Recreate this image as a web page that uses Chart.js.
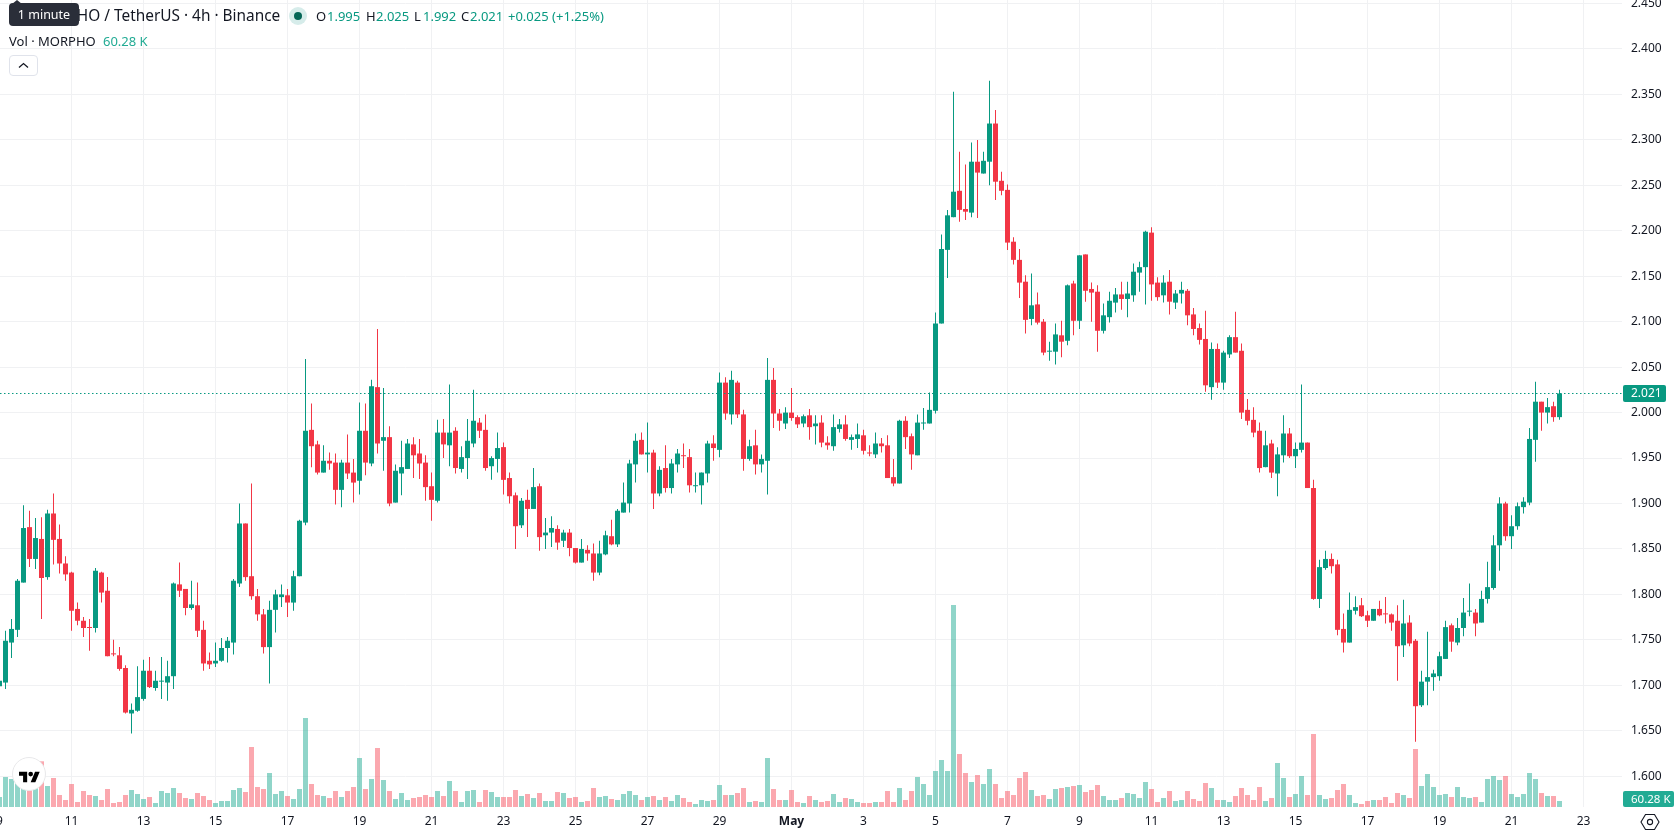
<!DOCTYPE html>
<html>
<head>
<meta charset="utf-8">
<title>MORPHO / TetherUS</title>
<script src="https://cdn.jsdelivr.net/npm/chart.js@4"></script>
<style>
    html, body { margin: 0; padding: 0; background: #fff; overflow: hidden; }
    #wrap { position: relative; width: 1678px; height: 835px; font-family: "Noto Sans", sans-serif; color: #131722; }
    canvas { position: absolute; left: 0; top: 0; }
    .txt { position: absolute; white-space: nowrap; font-size: 13px; line-height: 18px; }
    .up { color: #089981; }
    #symbol { left: 32px; top: 6px; font-size: 15.4px; line-height: 20px; }
    #hint { position: absolute; left: 9px; top: 3px; width: 70px; height: 23px; background: #2a2e39; border-radius: 4px;
        color: #fff; font-size: 12.5px; line-height: 23px; text-align: center; }
    #hint:before { content: ""; position: absolute; left: 3px; top: -3px; border: 5px solid transparent; border-top: 0; border-bottom: 4px solid #2a2e39; }
    #status { position: absolute; left: 289px; top: 7px; width: 18px; height: 18px; border-radius: 50%; background: #d6ecea; }
    #status:after { content: ""; position: absolute; left: 5px; top: 5px; width: 8px; height: 8px; border-radius: 50%; background: #056656; }
    #collapse { position: absolute; left: 9px; top: 55px; width: 27px; height: 19px; border: 1px solid #e0e3eb; border-radius: 4px; background: #fff; }
    #badge { position: absolute; left: 12px; top: 757px; width: 32px; height: 32px; border-radius: 50%; background: #fff; border: 1px solid #e8e8ea; }
</style>
</head>
<body>
<div id="wrap">
    <canvas id="priceChart" width="1678" height="835"></canvas>

    <div class="txt" id="symbol">MORPHO / TetherUS · 4h · Binance</div>
    <div id="hint">1 minute</div>
    <div id="status"></div>
    <div class="txt" style="left:316px;top:7px">O</div><div class="txt up" style="left:327px;top:7px">1.995</div>
    <div class="txt" style="left:366px;top:7px">H</div><div class="txt up" style="left:376px;top:7px">2.025</div>
    <div class="txt" style="left:414px;top:7px">L</div><div class="txt up" style="left:423px;top:7px">1.992</div>
    <div class="txt" style="left:461px;top:7px">C</div><div class="txt up" style="left:470px;top:7px">2.021</div>
    <div class="txt up" style="left:508px;top:7px">+0.025 (+1.25%)</div>

    <div class="txt" style="left:9px;top:32px">Vol · MORPHO</div>
    <div class="txt" style="left:103px;top:32px;color:#22ab94">60.28 K</div>

    <div id="collapse">
        <svg width="27" height="19" viewBox="0 0 27 19"><path d="M9 11.5l4.5-4 4.5 4" fill="none" stroke="#131722" stroke-width="1.3"/></svg>
    </div>

    <!-- 로고 배지 -->
    <div id="badge">
        <svg style="position:absolute;left:6px;top:11px" width="21" height="16" viewBox="0 3 36 20" fill="#000">
            <path d="M14 22H7V11H0V4h14v18zM28 22h-8l7.5-18h8L28 22z"/><circle cx="20" cy="8" r="4"/>
        </svg>
    </div>

    <!-- 우측 하단 설정 아이콘 -->
    <svg style="position:absolute;left:1640px;top:812px" width="20" height="20" viewBox="0 0 20 20" fill="none" stroke="#131722" stroke-width="1.1">
        <path d="M5.5 2.5h9L19 10l-4.5 7.5h-9L1 10z"/><circle cx="10" cy="10" r="2.6"/>
    </svg>
</div>

<script>
// 4시간봉 시가
const opens = [
    1.699,1.703,1.747,1.761,1.813,1.874,1.839,1.861,1.819,1.889,
    1.861,1.834,1.824,1.784,1.771,1.764,1.763,1.824,1.804,1.735,
    1.733,1.719,1.669,1.672,1.685,1.716,1.697,1.704,1.703,1.710,
    1.811,1.806,1.785,1.788,1.761,1.727,1.724,1.727,1.741,1.747,
    1.812,1.878,1.820,1.798,1.778,1.742,1.783,1.797,1.799,1.791,
    1.820,1.879,1.981,1.965,1.934,1.947,1.945,1.915,1.945,1.934,
    1.925,1.980,1.944,2.028,1.969,1.973,1.901,1.933,1.938,1.965,
    1.955,1.945,1.919,1.903,1.978,1.964,1.980,1.938,1.950,1.966,
    1.989,1.981,1.941,1.949,1.962,1.928,1.909,1.876,1.904,1.894,
    1.919,1.865,1.868,1.872,1.859,1.868,1.851,1.835,1.849,1.845,
    1.824,1.844,1.864,1.855,1.890,1.900,1.943,1.970,1.954,1.956,
    1.911,1.939,1.917,1.943,1.953,1.951,1.919,1.920,1.933,1.966,
    1.959,2.033,1.998,2.033,1.998,1.949,1.964,1.943,1.947,2.036,
    1.999,1.988,2.000,1.995,1.988,1.997,1.985,1.989,1.967,1.963,
    1.982,1.987,1.970,1.971,1.975,1.956,1.954,1.966,1.964,1.929,
    1.922,1.991,1.974,1.953,1.988,1.988,2.002,2.098,2.179,2.215,
    2.244,2.224,2.220,2.276,2.263,2.276,2.318,2.255,2.245,2.188,
    2.168,2.144,2.103,2.119,2.100,2.067,2.067,2.085,2.079,2.142,
    2.101,2.174,2.136,2.133,2.090,2.105,2.121,2.130,2.125,2.129,
    2.154,2.160,2.198,2.143,2.129,2.144,2.121,2.131,2.134,2.108,
    2.093,2.081,2.028,2.070,2.033,2.064,2.083,2.068,2.003,1.992,
    1.980,1.940,1.966,1.933,1.953,1.977,1.952,1.959,1.967,1.917,
    1.795,1.829,1.839,1.833,1.762,1.747,1.782,1.788,1.777,1.771,
    1.784,1.779,1.778,1.771,1.744,1.769,1.749,1.678,1.704,1.709,
    1.710,1.729,1.766,1.747,1.763,1.781,1.780,1.769,1.795,1.807,
    1.854,1.900,1.864,1.875,1.896,1.901,1.970,2.012,2.000,2.007,1.995
];
// 고가
const highs = [
    1.709,1.760,1.773,1.817,1.898,1.892,1.884,1.885,1.893,1.911,
    1.877,1.842,1.825,1.791,1.775,1.773,1.829,1.825,1.819,1.750,
    1.742,1.722,1.680,1.721,1.728,1.731,1.716,1.731,1.727,1.813,
    1.835,1.806,1.815,1.813,1.771,1.736,1.747,1.752,1.753,1.817,
    1.900,1.878,1.922,1.806,1.784,1.793,1.805,1.811,1.806,1.826,
    1.882,2.059,2.010,1.969,1.964,1.956,1.955,1.948,1.976,1.949,
    2.011,2.010,2.036,2.092,2.027,1.985,1.943,1.969,1.971,1.973,
    1.971,1.953,1.934,1.992,1.993,2.031,1.984,1.963,1.993,2.025,
    1.994,1.998,1.952,1.978,1.967,1.934,1.912,1.906,1.915,1.939,
    1.922,1.884,1.886,1.876,1.871,1.872,1.851,1.861,1.854,1.856,
    1.859,1.870,1.882,1.894,1.923,1.948,1.977,1.978,1.989,1.959,
    1.941,1.964,1.949,1.960,1.966,1.960,1.934,1.934,1.969,1.975,
    2.044,2.039,2.046,2.035,2.003,1.970,1.981,1.954,2.060,2.049,
    2.004,2.006,2.027,1.997,1.998,2.004,1.997,1.997,1.974,1.998,
    1.993,1.997,1.976,1.988,1.981,1.964,1.978,1.972,1.975,1.949,
    1.992,1.996,1.977,1.998,2.005,2.022,2.110,2.196,2.223,2.353,
    2.287,2.273,2.297,2.300,2.287,2.365,2.333,2.265,2.251,2.193,
    2.180,2.151,2.153,2.132,2.103,2.078,2.098,2.101,2.141,2.145,
    2.173,2.174,2.143,2.140,2.120,2.133,2.137,2.144,2.144,2.164,
    2.166,2.200,2.204,2.149,2.151,2.157,2.135,2.144,2.136,2.115,
    2.098,2.112,2.077,2.076,2.068,2.085,2.111,2.076,2.015,2.006,
    1.989,1.980,1.970,1.962,1.997,1.983,1.967,2.031,1.967,1.926,
    1.838,1.848,1.845,1.838,1.779,1.802,1.798,1.796,1.782,1.784,
    1.793,1.797,1.779,1.788,1.794,1.777,1.751,1.716,1.759,1.717,
    1.737,1.771,1.768,1.774,1.796,1.812,1.784,1.804,1.836,1.865,
    1.907,1.902,1.887,1.901,1.907,1.983,2.034,2.012,2.016,2.012,2.025
];
// 저가
const lows = [
    1.696,1.696,1.730,1.753,1.813,1.830,1.828,1.773,1.816,1.833,
    1.823,1.815,1.760,1.766,1.753,1.738,1.758,1.791,1.732,1.732,
    1.716,1.669,1.647,1.671,1.683,1.697,1.694,1.685,1.683,1.696,
    1.797,1.777,1.783,1.753,1.716,1.718,1.720,1.726,1.725,1.734,
    1.808,1.815,1.794,1.771,1.735,1.702,1.758,1.786,1.775,1.782,
    1.820,1.876,1.940,1.932,1.934,1.937,1.899,1.896,1.927,1.901,
    1.910,1.931,1.941,1.955,1.936,1.897,1.901,1.909,1.938,1.928,
    1.927,1.903,1.881,1.901,1.950,1.941,1.933,1.934,1.927,1.962,
    1.972,1.936,1.926,1.934,1.910,1.900,1.850,1.873,1.863,1.894,
    1.848,1.850,1.852,1.849,1.852,1.842,1.834,1.835,1.837,1.815,
    1.821,1.843,1.854,1.852,1.890,1.890,1.923,1.954,1.934,1.894,
    1.908,1.912,1.911,1.934,1.939,1.912,1.912,1.899,1.923,1.947,
    1.951,1.992,1.987,1.994,1.936,1.947,1.932,1.934,1.910,1.983,
    1.980,1.982,1.991,1.983,1.984,1.970,1.965,1.962,1.959,1.958,
    1.978,1.969,1.959,1.961,1.954,1.952,1.950,1.956,1.928,1.919,
    1.922,1.960,1.937,1.953,1.981,1.988,1.999,2.098,2.148,2.215,
    2.210,2.212,2.215,2.214,2.263,2.250,2.234,2.239,2.179,2.163,
    2.126,2.087,2.096,2.097,2.063,2.057,2.053,2.061,2.074,2.085,
    2.092,2.122,2.100,2.067,2.087,2.099,2.110,2.113,2.105,2.122,
    2.133,2.119,2.123,2.123,2.121,2.108,2.114,2.120,2.096,2.085,
    2.075,2.023,2.014,2.027,2.025,2.060,2.066,1.993,1.986,1.973,
    1.934,1.940,1.928,1.908,1.945,1.950,1.939,1.956,1.917,1.794,
    1.785,1.827,1.823,1.755,1.736,1.747,1.778,1.775,1.764,1.771,
    1.776,1.768,1.760,1.705,1.731,1.743,1.638,1.676,1.678,1.694,
    1.705,1.729,1.737,1.744,1.754,1.776,1.754,1.769,1.790,1.805,
    1.826,1.859,1.850,1.871,1.889,1.898,1.946,1.980,1.988,1.990,1.992
];
// 종가
const closes = [
    1.705,1.749,1.762,1.815,1.873,1.839,1.862,1.818,1.889,1.860,
    1.834,1.822,1.782,1.771,1.763,1.763,1.826,1.802,1.732,1.734,
    1.718,1.670,1.673,1.687,1.716,1.698,1.705,1.705,1.710,1.812,
    1.804,1.785,1.789,1.760,1.724,1.723,1.727,1.741,1.749,1.815,
    1.878,1.819,1.798,1.778,1.742,1.783,1.800,1.800,1.791,1.820,
    1.881,1.980,1.963,1.934,1.947,1.944,1.915,1.945,1.933,1.923,
    1.980,1.945,2.029,1.966,1.973,1.900,1.936,1.940,1.966,1.953,
    1.944,1.918,1.904,1.978,1.965,1.978,1.939,1.951,1.969,1.991,
    1.980,1.939,1.950,1.961,1.926,1.908,1.875,1.903,1.894,1.918,
    1.863,1.868,1.873,1.857,1.868,1.851,1.835,1.850,1.845,1.824,
    1.845,1.865,1.855,1.892,1.901,1.944,1.969,1.954,1.956,1.911,
    1.937,1.917,1.944,1.955,1.952,1.920,1.920,1.934,1.966,1.961,
    2.033,1.999,2.036,1.998,1.949,1.963,1.943,1.949,2.036,1.999,
    1.991,2.000,1.994,1.987,1.996,1.984,1.988,1.967,1.964,1.984,
    1.987,1.971,1.973,1.976,1.958,1.955,1.966,1.963,1.928,1.922,
    1.991,1.973,1.954,1.989,1.989,2.003,2.098,2.180,2.217,2.243,
    2.223,2.221,2.276,2.264,2.277,2.318,2.254,2.244,2.187,2.168,
    2.143,2.102,2.118,2.099,2.066,2.068,2.086,2.078,2.140,2.101,
    2.173,2.134,2.132,2.090,2.107,2.123,2.130,2.125,2.131,2.155,
    2.160,2.199,2.141,2.127,2.143,2.122,2.131,2.135,2.107,2.092,
    2.080,2.030,2.070,2.033,2.066,2.083,2.066,2.000,1.991,1.978,
    1.939,1.964,1.934,1.954,1.977,1.952,1.960,1.967,1.917,1.795,
    1.830,1.839,1.831,1.761,1.747,1.783,1.786,1.776,1.771,1.784,
    1.777,1.778,1.769,1.743,1.768,1.746,1.677,1.704,1.709,1.713,
    1.732,1.764,1.748,1.763,1.780,1.782,1.768,1.795,1.808,1.854,
    1.900,1.864,1.875,1.897,1.902,1.971,2.012,2.000,2.006,1.995,2.021
];
// 거래량 (K)
const volumes = [
    100,300,280,260,200,180,190,457,210,290,
    120,70,230,50,160,120,110,70,180,40,
    50,120,170,130,80,100,40,160,140,190,
    140,90,80,140,110,70,40,60,60,170,
    190,150,600,200,180,340,130,160,110,80,
    180,890,230,120,110,90,160,100,160,200,
    490,180,280,590,270,160,80,140,70,90,
    100,120,100,160,110,260,160,50,160,170,
    50,170,150,100,100,100,170,110,130,90,
    140,60,60,150,140,90,100,50,60,190,
    100,110,80,70,130,160,120,70,100,110,
    70,100,60,120,90,50,30,70,60,70,
    220,120,120,140,190,50,60,50,490,180,
    70,70,170,50,40,110,70,50,60,130,
    50,90,80,50,40,40,50,50,160,50,
    190,70,160,300,230,120,360,470,360,2020,
    530,340,250,320,230,380,230,90,160,120,
    290,350,170,110,120,80,180,190,200,210,
    220,150,170,220,110,70,70,90,140,130,
    90,250,180,50,90,160,60,70,160,80,
    60,240,190,70,70,50,110,190,120,70,
    200,60,90,440,290,100,130,310,120,730,
    120,80,90,170,230,120,40,30,60,70,
    70,100,40,140,120,90,580,210,330,200,
    120,130,100,200,100,90,100,50,280,310,
    270,310,130,100,130,340,280,140,110,110,60.28
];

// 축 눈금
const priceTicks = [1.6,1.65,1.7,1.75,1.8,1.85,1.9,1.95,2,2.05,2.1,2.15,2.2,2.25,2.3,2.35,2.4,2.45];
const dateTicks = [0,12,24,36,48,60,72,84,96,108,120,132,144,156,168,180,192,204,216,228,240,252,264];
const dateLabels = ['9','11','13','15','17','19','21','23','25','27','29','May','3','5','7','9','11','13','15','17','19','21','23'];

const UP = '#089981';
const DOWN = '#f23645';
const UP_VOL = 'rgba(34,171,148,0.5)';
const DOWN_VOL = 'rgba(247,82,95,0.5)';
const GRID = '#f0f1f3';
const AXIS_FONT = { family: '"Noto Sans", sans-serif', size: 12 };

// 한 봉이 6px, 차트 영역은 1622 x 807
const xMin = 0.5 / 6;
const xMax = xMin + 1622 / 6;
const lastClose = closes[closes.length - 1];
const lastVolume = volumes[volumes.length - 1];

const isUp = i => closes[i] >= opens[i];

// 현재가, 거래량 라벨 박스
const valueBoxes = {
    id: 'valueBoxes',
    afterDraw(chart) {
        const ctx = chart.ctx;
        const y = chart.scales.y.getPixelForValue(lastClose);
        ctx.save();
        ctx.font = '12px "Noto Sans", sans-serif';
        ctx.textBaseline = 'middle';
        ctx.textAlign = 'left';

        ctx.fillStyle = UP;
        ctx.beginPath();
        ctx.roundRect(1623, Math.round(y) - 9, 43, 17, 2);
        ctx.fill();
        ctx.fillStyle = '#fff';
        ctx.fillText(lastClose.toFixed(3), 1631, Math.round(y));

        ctx.font = '11.5px "Noto Sans", sans-serif';
        ctx.fillStyle = '#22ab94';
        ctx.beginPath();
        ctx.roundRect(1623, 791, 51, 16, 2);
        ctx.fill();
        ctx.fillStyle = '#fff';
        ctx.fillText(lastVolume.toFixed(2) + ' K', 1631, 800);
        ctx.restore();
    }
};

new Chart(document.getElementById('priceChart').getContext('2d'), {
    type: 'bar',
    data: {
        datasets: [
            {
                label: 'Vol',
                yAxisID: 'yVol',
                order: 3,
                grouped: false,
                barThickness: 5,
                inflateAmount: 0,
                data: volumes.map((v, i) => ({ x: i, y: v })),
                backgroundColor: volumes.map((v, i) => isUp(i) ? UP_VOL : DOWN_VOL)
            },
            {
                label: 'wick',
                order: 2,
                grouped: false,
                barThickness: 1,
                inflateAmount: 0,
                data: highs.map((h, i) => ({ x: i, y: [lows[i], h] })),
                backgroundColor: highs.map((h, i) => isUp(i) ? UP : DOWN)
            },
            {
                label: 'body',
                order: 1,
                grouped: false,
                barThickness: 5,
                inflateAmount: 0,
                minBarLength: 1,
                data: opens.map((o, i) => ({ x: i, y: [o, closes[i]] })),
                backgroundColor: opens.map((o, i) => isUp(i) ? UP : DOWN)
            },
            {
                // 현재가 점선
                type: 'line',
                label: 'last',
                order: 0,
                data: [{ x: xMin, y: lastClose }, { x: xMax, y: lastClose }],
                borderColor: UP,
                borderWidth: 1,
                borderDash: [1.5, 2.5],
                pointRadius: 0
            }
        ]
    },
    plugins: [valueBoxes],
    options: {
        responsive: false,
        animation: false,
        events: [],
        layout: { padding: 0 },
        plugins: {
            legend: { display: false },
            tooltip: { enabled: false }
        },
        scales: {
            x: {
                type: 'linear',
                offset: false,
                min: xMin,
                max: xMax,
                border: { display: false },
                grid: { color: GRID, drawTicks: false, offset: false },
                ticks: {
                    autoSkip: false,
                    maxRotation: 0,
                    padding: 7,
                    color: '#131722',
                    font: ctx => ctx.tick && dateLabels[dateTicks.indexOf(ctx.tick.value)] === 'May'
                        ? { ...AXIS_FONT, weight: 'bold' } : AXIS_FONT,
                    callback: value => dateLabels[dateTicks.indexOf(value)]
                },
                afterBuildTicks: axis => { axis.ticks = dateTicks.map(v => ({ value: v })); },
                afterFit: axis => {
                    axis.height = 28;
                    axis.paddingLeft = axis.paddingRight = 0;
                }
            },
            y: {
                position: 'right',
                // 2.000이 412.59px, 1.0당 909px
                min: 2 - 394.41 / 909,
                max: 2 + 412.59 / 909,
                border: { display: false },
                grid: { color: GRID, drawTicks: false },
                ticks: {
                    padding: 9,
                    color: '#131722',
                    font: AXIS_FONT,
                    callback: value => value.toFixed(3)
                },
                afterBuildTicks: axis => { axis.ticks = priceTicks.map(v => ({ value: v })); },
                afterFit: axis => {
                    axis.width = 56;
                    axis.paddingTop = axis.paddingBottom = 0;
                }
            },
            yVol: {
                display: false,
                min: 0,
                max: 8070
            }
        }
    }
});
</script>
</body>
</html>
